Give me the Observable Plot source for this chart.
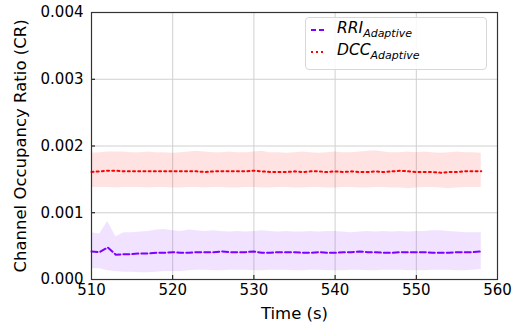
<!DOCTYPE html>
<html><head><meta charset="utf-8">
<script src="https://cdn.jsdelivr.net/npm/d3@7"></script>
<script src="https://cdn.jsdelivr.net/npm/@observablehq/plot@0.6"></script>
<style>
body{margin:0;background:#fff;font-family:"DejaVu Sans",sans-serif}
#wrap{position:relative;width:522px;height:325px}
.legend{position:absolute;left:305px;top:17px;width:180px;height:51px;border:1px solid #d8d8d8;border-radius:4px;background:rgba(255,255,255,0.85)}
.row{position:absolute;left:0;width:180px;height:22px}
.row svg{position:absolute;left:4px;top:0}
.row span{position:absolute;left:31px;top:0px;font-style:italic;font-size:15.5px;color:#000;white-space:nowrap}
.row sub{font-size:11px;vertical-align:-4px}
</style></head>
<body><div id="wrap"></div>
<script>
const time = [510,511,512,513,514,515,516,517,518,519,520,521,522,523,524,525,526,527,528,529,530,531,532,533,534,535,536,537,538,539,540,541,542,543,544,545,546,547,548,549,550,551,552,553,554,555,556,557,558];
const rriMean = [
0.00042,0.00041,0.00048,0.00037,0.00038,0.00038,0.00039,0.00039,0.00040,0.00040,
0.00041,0.00040,0.00040,0.00041,0.00041,0.00041,0.00042,0.00041,0.00041,0.00041,
0.00042,0.00040,0.00040,0.00041,0.00041,0.00041,0.00040,0.00040,0.00041,0.00040,
0.00040,0.00041,0.00041,0.00042,0.00041,0.00041,0.00040,0.00040,0.00041,0.00041,
0.00041,0.00041,0.00040,0.00040,0.00040,0.00041,0.00041,0.00041,0.00042];
const rriHi = [
0.00070,0.00068,0.00087,0.00064,0.00070,0.00070,0.00071,0.00072,0.00074,0.00075,
0.00073,0.00072,0.00074,0.00073,0.00072,0.00073,0.00072,0.00071,0.00072,0.00071,
0.00072,0.00073,0.00072,0.00071,0.00072,0.00071,0.00071,0.00072,0.00071,0.00072,
0.00072,0.00071,0.00070,0.00071,0.00072,0.00071,0.00072,0.00071,0.00072,0.00071,
0.00072,0.00072,0.00073,0.00073,0.00072,0.00071,0.00070,0.00070,0.00070];
const rriLo = [
0.00016,0.00016,0.00013,0.00012,0.00011,0.00011,0.00010,0.00010,0.00011,0.00012,
0.00012,0.00012,0.00013,0.00014,0.00014,0.00013,0.00013,0.00014,0.00014,0.00014,
0.00013,0.00013,0.00014,0.00014,0.00014,0.00013,0.00013,0.00014,0.00014,0.00013,
0.00013,0.00013,0.00014,0.00014,0.00013,0.00013,0.00014,0.00014,0.00014,0.00013,
0.00013,0.00013,0.00014,0.00014,0.00014,0.00013,0.00013,0.00014,0.00015];
const dccMean = [
0.00161,0.00162,0.00163,0.00163,0.00162,0.00162,0.00162,0.00162,0.00162,0.00162,
0.00162,0.00162,0.00162,0.00162,0.00161,0.00162,0.00162,0.00162,0.00162,0.00162,
0.00163,0.00162,0.00161,0.00161,0.00161,0.00162,0.00161,0.00162,0.00162,0.00161,
0.00162,0.00161,0.00162,0.00161,0.00161,0.00162,0.00161,0.00162,0.00163,0.00162,
0.00161,0.00161,0.00161,0.00160,0.00161,0.00161,0.00162,0.00162,0.00162];
const dccHi = [
0.00189,0.00190,0.00191,0.00191,0.00191,0.00190,0.00190,0.00191,0.00190,0.00190,
0.00189,0.00190,0.00191,0.00192,0.00191,0.00190,0.00190,0.00191,0.00190,0.00190,
0.00191,0.00192,0.00190,0.00190,0.00189,0.00190,0.00191,0.00190,0.00189,0.00190,
0.00191,0.00190,0.00190,0.00191,0.00192,0.00193,0.00191,0.00190,0.00190,0.00191,
0.00190,0.00191,0.00190,0.00189,0.00190,0.00191,0.00190,0.00190,0.00189];
const dccLo = [
0.00138,0.00138,0.00138,0.00137,0.00138,0.00138,0.00138,0.00137,0.00138,0.00138,
0.00137,0.00137,0.00138,0.00138,0.00137,0.00138,0.00138,0.00137,0.00137,0.00138,
0.00138,0.00137,0.00137,0.00138,0.00138,0.00137,0.00137,0.00138,0.00138,0.00137,
0.00137,0.00138,0.00138,0.00137,0.00137,0.00138,0.00138,0.00137,0.00137,0.00136,
0.00137,0.00138,0.00138,0.00137,0.00136,0.00137,0.00138,0.00138,0.00138];
const xTicks = [510,520,530,540,550,560];
const yTicks = [0,0.001,0.002,0.003,0.004];
const seriesNames = ["RRI", "DCC"];
const xLabel = "Time (s)";
const yLabel = "Channel Occupancy Ratio (CR)";

const rri = time.map((t,i)=>({t, m:rriMean[i], lo:rriLo[i], hi:rriHi[i]}));
const dcc = time.map((t,i)=>({t, m:dccMean[i], lo:dccLo[i], hi:dccHi[i]}));
const purple = "#7f00ff", red = "#ff0000";
const font = "DejaVu Sans";

const chart = Plot.plot({
  width: 522, height: 325,
  marginLeft: 91, marginRight: 25, marginTop: 12, marginBottom: 46,
  style: {fontFamily: font, fontSize: "15px", color: "#000", background: "#fff", overflow: "visible"},
  x: {domain: [510, 560], ticks: xTicks},
  y: {domain: [0, 0.004], ticks: yTicks},
  marks: [
    Plot.gridX(xTicks, {stroke: "#d0d0d0", strokeOpacity: 1}),
    Plot.gridY(yTicks, {stroke: "#d0d0d0", strokeOpacity: 1}),
    Plot.areaY(rri, {x: "t", y1: "lo", y2: "hi", fill: purple, fillOpacity: 0.11}),
    Plot.areaY(dcc, {x: "t", y1: "lo", y2: "hi", fill: red, fillOpacity: 0.11}),
    Plot.lineY(rri, {x: "t", y: "m", stroke: purple, strokeWidth: 2, strokeDasharray: "6,3"}),
    Plot.lineY(dcc, {x: "t", y: "m", stroke: red, strokeWidth: 2, strokeDasharray: "2,3.2"}),
    Plot.axisX({ticks: xTicks, tickSize: 0, tickPadding: 5, label: null, fontSize: 15}),
    Plot.axisY({ticks: yTicks, tickSize: 0, tickPadding: 8, label: null, fontSize: 15, tickFormat: d3.format(".3f")}),
    Plot.axisX({ticks: xTicks, tickSize: 4, dy: -4, label: null, tickFormat: () => ""}),
    Plot.axisY({ticks: yTicks, tickSize: 4, dx: 4, label: null, tickFormat: () => ""}),
    Plot.frame({stroke: "#333", strokeWidth: 1.2}),
    Plot.text([xLabel], {frameAnchor: "bottom", dy: 34, lineAnchor: "middle", fontSize: 16.5}),
    Plot.text([yLabel], {frameAnchor: "left", dx: -71, rotate: -90, textAnchor: "middle", lineAnchor: "middle", fontSize: 16.5})
  ]
});
const wrap = document.getElementById("wrap");
wrap.appendChild(chart);
const leg = document.createElement("div");
leg.className = "legend";
leg.innerHTML = `
<div class="row" style="top:1px"><svg width="16" height="22"><line x1="1" x2="15" y1="11" y2="11" stroke="${purple}" stroke-width="2" stroke-dasharray="5,3"/></svg><span>${seriesNames[0]}<sub>Adaptive</sub></span></div>
<div class="row" style="top:23px"><svg width="16" height="22"><line x1="1" x2="15" y1="11" y2="11" stroke="${red}" stroke-width="2" stroke-dasharray="2,3"/></svg><span>${seriesNames[1]}<sub>Adaptive</sub></span></div>`;
wrap.appendChild(leg);
</script></body></html>
